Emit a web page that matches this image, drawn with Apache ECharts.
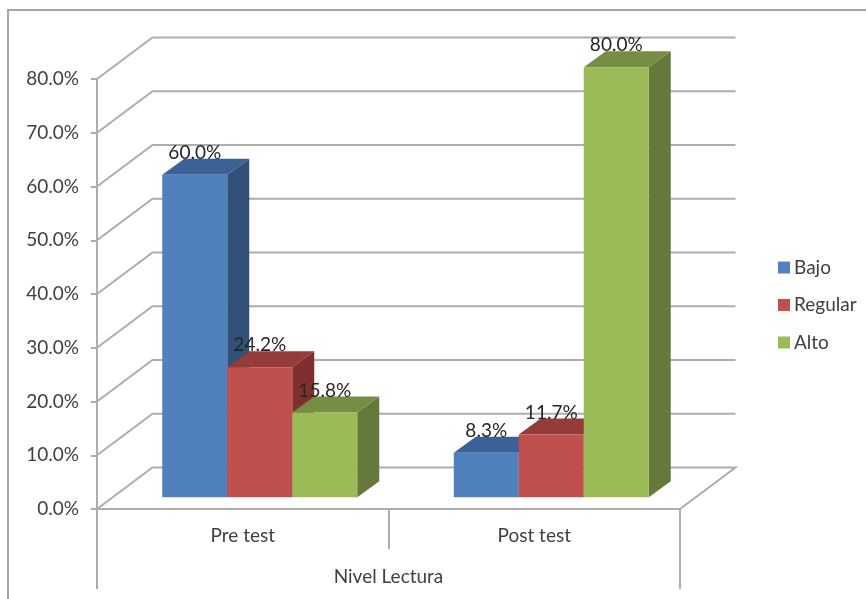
<!DOCTYPE html>
<html>
<head>
<meta charset="utf-8">
<style>html,body{margin:0;padding:0;background:#fff}#c{width:866px;height:599px}</style>
<script src="https://cdn.jsdelivr.net/npm/echarts@6/dist/echarts.min.js"></script>
</head>
<body>
<div id="c"></div>
<script>
const categories = ['Pre test', 'Post test'];
const outerCategory = ['Nivel Lectura'];
const bajo = [60.0, 8.3];
const regular = [24.2, 11.7];
const alto = [15.8, 80.0];
const yTicks = [0, 10, 20, 30, 40, 50, 60, 70, 80];

const FONT = 'Lato';
const FS = 19;
const GRID = '#adadad';
const TEXT = '#404040';
const WALL_DX = 55.5, WALL_DY = 41.5;   // depth of the floor
const BAR_DX = 22, BAR_DY = 16;         // depth of one bar
const SHIFT_X = 17, SHIFT_Y = 11.7;     // bar row set back from the front edge
const BAR_W = 65;

const chart = echarts.init(document.getElementById('c'), null, {renderer: 'canvas'});

function wallItem(params, api) {
  const cs = params.coordSys;
  const p = api.coord([0, api.value(1)]);
  const y = p[1], x0 = cs.x, x1 = cs.x + cs.width;
  const pts = [[x0, y], [x0 + WALL_DX, y - WALL_DY], [x1 + WALL_DX, y - WALL_DY]];
  if (api.value(1) === 0) pts.push([x1, y]);
  return {
    type: 'polyline', silent: true,
    shape: {points: pts},
    style: {stroke: GRID, lineWidth: 2, fill: null}
  };
}

function barSeries(name, values, index, front, top, side) {
  return {
    type: 'custom', name, z: 3,
    data: values.map((v, i) => [i, v]),
    encode: {x: 0, y: 1},
    itemStyle: {color: front},
    clip: false,
    renderItem(params, api) {
      const c = api.coord([api.value(0), api.value(1)]);
      const b = api.coord([api.value(0), 0]);
      const left = c[0] + SHIFT_X + (index - 1.5) * BAR_W;
      const right = left + BAR_W;
      const ty = c[1] - SHIFT_Y, by = b[1] - SHIFT_Y;
      return {
        type: 'group',
        children: [
          {type: 'polygon', shape: {points: [[right, ty], [right + BAR_DX, ty - BAR_DY], [right + BAR_DX, by - BAR_DY], [right, by]]}, style: {fill: side}},
          {type: 'polygon', shape: {points: [[left, ty], [left + BAR_DX, ty - BAR_DY], [right + BAR_DX, ty - BAR_DY], [right, ty]]}, style: {fill: top}},
          {type: 'rect', shape: {x: left, y: ty, width: BAR_W, height: by - ty}, style: {fill: front}},
          {type: 'text', z2: 100, style: {
            text: api.value(1).toFixed(1) + '%',
            x: left + BAR_W / 2, y: ty - 22,
            align: 'center', verticalAlign: 'middle',
            fill: '#262626', font: FS + 'px ' + FONT
          }}
        ]
      };
    }
  };
}

chart.setOption({
  animation: false,
  backgroundColor: '#fff',
  textStyle: {fontFamily: FONT},
  grid: {left: 97, right: 186, top: 79, bottom: 90, containLabel: false},
  legend: {
    data: ['Bajo', 'Regular', 'Alto'],
    orient: 'vertical', left: 773, top: 253,
    icon: 'rect', itemWidth: 12, itemHeight: 12, itemGap: 18.5,
    selectedMode: false,
    textStyle: {fontSize: FS, color: TEXT, fontFamily: FONT, padding: [0, 0, 0, -1]}
  },
  xAxis: [
    {
      type: 'category', data: categories, position: 'bottom',
      axisLine: {lineStyle: {color: GRID, width: 2}},
      axisTick: {show: true, length: 40, lineStyle: {color: GRID, width: 2}},
      axisLabel: {color: TEXT, fontSize: FS, fontFamily: FONT, margin: 17}
    },
    {
      type: 'category', data: outerCategory, position: 'bottom',
      axisLine: {show: false},
      axisTick: {show: true, length: 80, lineStyle: {color: GRID, width: 2}},
      axisLabel: {color: TEXT, fontSize: FS, fontFamily: FONT, margin: 58}
    }
  ],
  yAxis: {
    type: 'value', min: 0, max: 80, interval: 10,
    axisLine: {show: true, lineStyle: {color: GRID, width: 2}},
    axisTick: {show: true, length: 6, lineStyle: {color: GRID, width: 2}},
    axisLabel: {color: TEXT, fontSize: FS, fontFamily: FONT, margin: 18, formatter: v => v.toFixed(1) + '%'},
    splitLine: {show: false}
  },
  graphic: [{
    type: 'polyline', silent: true,
    shape: {points: [[8, 599], [8, 10], [866, 10]]},
    style: {stroke: '#a6a6a6', lineWidth: 2, fill: null}
  }],
  series: [
    {
      type: 'custom', name: 'wall', z: 1, silent: true, clip: false,
      data: yTicks.map(v => [0, v]),
      encode: {x: 0, y: 1},
      renderItem: wallItem
    },
    barSeries('Bajo', bajo, 0, '#4F81BD', '#3B6296', '#335078'),
    barSeries('Regular', regular, 1, '#C0504D', '#953B39', '#7F302E'),
    barSeries('Alto', alto, 2, '#9BBB59', '#768E43', '#657A3A')
  ]
});
</script>
</body>
</html>
